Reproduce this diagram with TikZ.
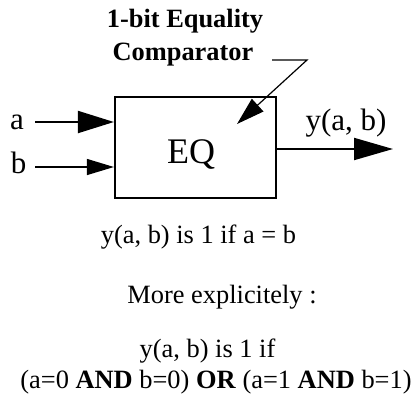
\documentclass[tikz,border=0pt]{standalone}
\usepackage{fontspec}
\setmainfont{Liberation Serif}
\usetikzlibrary{arrows.meta}
\begin{document}
\begin{tikzpicture}[x=1pt,y=-1pt,
  body/.style={font=\fontsize{26.4}{30}\selectfont, anchor=base, inner sep=0pt},
  titletext/.style={font=\fontsize{26.4}{30}\selectfont\bfseries, anchor=base, inner sep=0pt},
  pinlabel/.style={font=\fontsize{31}{34}\selectfont, anchor=base, inner sep=0pt},
  blockbox/.style={draw, line width=2.2pt, minimum width=161pt, minimum height=101pt, inner sep=0pt},
  bigtip/.style={-{Triangle[length=36pt,width=22pt]}},
  smalltip/.style={-{Triangle[length=27pt,width=16pt]}}
]
\useasboundingbox (0,0) rectangle (415,400);

% block
\node[blockbox] (eq) at (195.5,147.5) {};
\node[font=\fontsize{36}{40}\selectfont, anchor=base, inner sep=0pt] (eqlabel) at (191,163) {EQ};

% title
\node[titletext] (t1) at (185,27) {1-bit Equality};
\node[titletext] (t2) at (183,60) {Comparator};

% pointer from title to block
\coordinate (p0) at (272,60);
\coordinate (p1) at (307,60);
\coordinate (p2) at (237,124);
\draw[line width=1.2pt, -{Triangle[length=28pt,width=17pt]}] (p0) -- (p1) -- (p2);

% inputs
\node[pinlabel] (la) at (17,129) {a};
\node[pinlabel] (lb) at (18.5,173) {b};
\coordinate (a0) at (35,122);
\coordinate (b0) at (35,167);
\draw[line width=2pt, bigtip] (a0) -- (eq.west |- a0);
\draw[line width=1.3pt, smalltip] (b0) -- (eq.west |- b0);

% output
\coordinate (out) at (393,149);
\draw[line width=2pt, -{Triangle[length=39pt,width=22pt]}] (eq.east |- out) -- (out);
\node[pinlabel] (ly) at (346,130) {y(a, b)};

% explanation
\node[body] (e1) at (198.5,243) {y(a, b) is 1 if a = b};
\node[body] (e2) at (222,303) {More explicitely :};
\node[body] (e3) at (207.5,357) {y(a, b) is 1 if};
\node[body] (e4) at (216,388) {(a=0 \textbf{AND} b=0) \textbf{OR} (a=1 \textbf{AND} b=1)};
\end{tikzpicture}
\end{document}
